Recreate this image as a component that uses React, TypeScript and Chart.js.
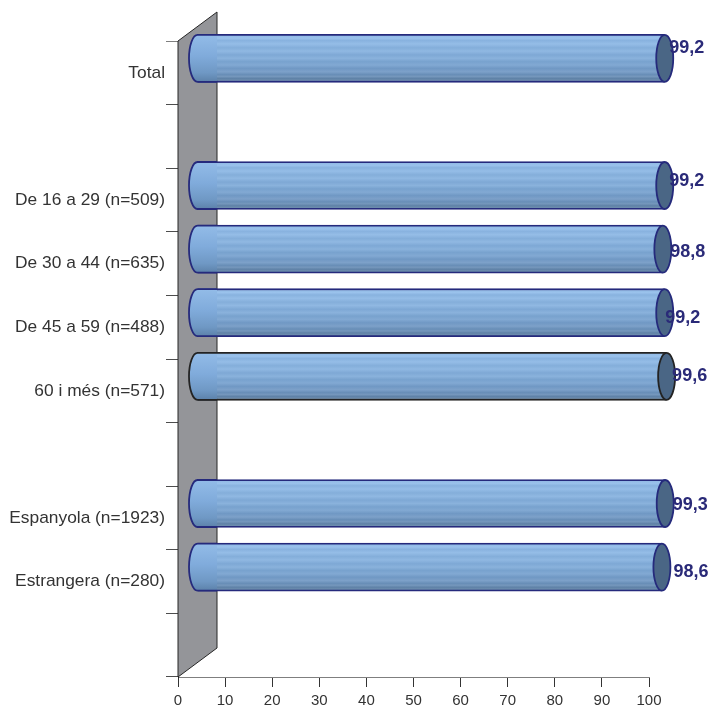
import React, { useEffect, useRef } from "react";
import { Chart, registerables } from "chart.js";

Chart.register(...registerables);

const categories = ["Total", "", "De 16 a 29 (n=509)", "De 30 a 44 (n=635)", "De 45 a 59 (n=488)", "60 i més (n=571)", "", "Espanyola (n=1923)", "Estrangera (n=280)", ""];
const values = [99.2, null, 99.2, 98.8, 99.2, 99.6, null, 99.3, 98.6, null];
const valueLabels = ["99,2", "", "99,2", "98,8", "99,2", "99,6", "", "99,3", "98,6", ""];
const xTicks = [0, 10, 20, 30, 40, 50, 60, 70, 80, 90, 100];

const labelNudgeX = [24, 0, 24, 27, 20, 25, 0, 27, 31, 0];
const labelNudgeY = [-25, 0, -19, -12, -9, -15, 0, -13, -10, 0];
const outlineColors = ["#252a7c", "#252a7c", "#252a7c", "#252a7c", "#252a7c", "#232323", "#252a7c", "#252a7c", "#252a7c", "#252a7c"];

const FONT = '"Liberation Sans", Arial, sans-serif';
const DEPTH_X = 19.5;
const DEPTH_Y = 14.5;
const BAR_T = 48;
const CAP_RX = 8.5;

const smoothStops: [number, string][] = [
  [0, "#93bce8"], [0.45, "#80abdb"], [0.8, "#6f98c4"], [1, "#5b80a8"],
];
const stripedStops: [number, string][] = [
  [0, "#8db6e2"], [0.08, "#9ac2ec"], [0.13, "#88b2df"], [0.2, "#95bde7"], [0.28, "#84aeda"],
  [0.35, "#90b8e2"], [0.43, "#7ea8d5"], [0.5, "#8ab2dc"], [0.57, "#78a2ce"], [0.64, "#82a9d3"],
  [0.71, "#7098c4"], [0.78, "#7da1c9"], [0.84, "#688eb7"], [0.88, "#7597bc"], [0.92, "#5f82a7"],
  [0.96, "#6c8cad"], [1, "#557698"],
];

function grad(c: CanvasRenderingContext2D, cy: number, stops: [number, string][]) {
  const g = c.createLinearGradient(0, cy - BAR_T / 2, 0, cy + BAR_T / 2);
  stops.forEach(([p, col]) => g.addColorStop(p, col));
  return g;
}

const cylinderPlugin = {
  id: "cylinder",
  beforeDatasetsDraw(chart: any) {
    const { ctx, chartArea: a } = chart;
    const dx = DEPTH_X * 2, dy = DEPTH_Y * 2;
    ctx.save();
    ctx.beginPath();
    ctx.moveTo(a.left, a.top);
    ctx.lineTo(a.left + dx, a.top - dy);
    ctx.lineTo(a.left + dx, a.bottom - dy);
    ctx.lineTo(a.left, a.bottom);
    ctx.closePath();
    ctx.fillStyle = "#949599";
    ctx.fill();
    ctx.strokeStyle = "#262626";
    ctx.lineWidth = 1;
    ctx.stroke();
    ctx.restore();
  },
  beforeDatasetDraw(chart: any) {
    chart.ctx.save();
    chart.ctx.translate(DEPTH_X, -DEPTH_Y);
  },
  afterDatasetDraw(chart: any) {
    const { ctx, chartArea: a } = chart;
    ctx.restore();
    const meta = chart.getDatasetMeta(0);
    meta.data.forEach((el: any, i: number) => {
      if (values[i] == null) return;
      const cy = el.y - DEPTH_Y;
      const xL = a.left + DEPTH_X;
      const xR = el.x + DEPTH_X;
      const wall = a.left + DEPTH_X * 2;
      const outline = outlineColors[i];
      // smooth part and left cap
      ctx.save();
      ctx.beginPath();
      ctx.ellipse(xL, cy, CAP_RX, BAR_T / 2, 0, Math.PI / 2, (3 * Math.PI) / 2);
      ctx.lineTo(wall, cy - BAR_T / 2);
      ctx.lineTo(wall, cy + BAR_T / 2);
      ctx.closePath();
      ctx.fillStyle = grad(ctx, cy, smoothStops);
      ctx.fill();
      ctx.beginPath();
      ctx.ellipse(xL, cy, CAP_RX, BAR_T / 2 - 0.5, 0, Math.PI / 2, (3 * Math.PI) / 2);
      ctx.lineTo(wall, cy - BAR_T / 2 + 0.5);
      ctx.moveTo(xL, cy + BAR_T / 2 - 0.5);
      ctx.lineTo(wall, cy + BAR_T / 2 - 0.5);
      ctx.strokeStyle = outline;
      ctx.lineWidth = 1.8;
      ctx.stroke();
      // right cap
      ctx.beginPath();
      ctx.ellipse(xR, cy, CAP_RX, BAR_T / 2 - 0.5, 0, 0, Math.PI * 2);
      ctx.fillStyle = "#4a6685";
      ctx.fill();
      ctx.strokeStyle = outline;
      ctx.lineWidth = 1.8;
      ctx.stroke();
      ctx.restore();
    });
  },
  afterDatasetsDraw(chart: any) {
    const { ctx } = chart;
    const meta = chart.getDatasetMeta(0);
    ctx.save();
    ctx.font = `bold 18px ${FONT}`;
    ctx.fillStyle = "#2a2a78";
    ctx.textAlign = "left";
    ctx.textBaseline = "middle";
    meta.data.forEach((el: any, i: number) => {
      if (values[i] == null) return;
      ctx.fillText(valueLabels[i], el.x + labelNudgeX[i], el.y + labelNudgeY[i]);
    });
    ctx.restore();
  },
};

export default function App() {
  const ref = useRef<HTMLCanvasElement>(null);
  useEffect(() => {
    document.body.style.margin = "0";
    const chart = new Chart(ref.current!, {
      type: "bar",
      data: {
        labels: categories,
        datasets: [
          {
            data: values as any,
            barThickness: BAR_T,
            clip: false as any,
            borderWidth: { top: 1.8, bottom: 1.8, left: 0, right: 0 },
            borderColor: outlineColors,
            borderSkipped: false,
            backgroundColor: (c: any) => {
              const scale = c.chart.scales.y;
              const cy = c.type === "data" && scale ? scale.getPixelForValue(c.dataIndex) : NaN;
              if (!Number.isFinite(cy)) return "#7eaad9";
              return grad(c.chart.ctx, cy, stripedStops);
            },
          },
        ],
      },
      options: {
        indexAxis: "y",
        responsive: false,
        animation: false,
        events: [],
        layout: { padding: { top: 41, right: 66, left: 0, bottom: 0 } },
        plugins: { legend: { display: false }, tooltip: { enabled: false } },
        scales: {
          x: {
            min: 0,
            max: 100,
            afterFit: (s: any) => { s.height = 30; },
            afterBuildTicks: (s: any) => { s.ticks = xTicks.map((value) => ({ value })); },
            border: { color: "#7f7f7f", width: 1 },
            grid: { drawOnChartArea: false, tickLength: 10, color: "#333333", tickColor: "#333333" },
            ticks: { color: "#333333", font: { family: FONT, size: 15 }, padding: 5, maxRotation: 0 },
          },
          y: {
            afterFit: (s: any) => { s.width = 178; },
            border: { color: "#262626", width: 1 },
            grid: {
              drawOnChartArea: false,
              tickLength: 12,
              tickColor: (c: any) => (c.index === 0 || c.index === categories.length ? "#7f7f7f" : "#4d4d4d"),
            },
            ticks: { color: "#333333", font: { family: FONT, size: 17.35 }, padding: 1, autoSkip: false },
          },
        },
      },
      plugins: [cylinderPlugin],
    } as any);
    return () => chart.destroy();
  }, []);
  return (
    <div style={{ width: 715, height: 707 }}>
      <canvas ref={ref} width={715} height={707} style={{ display: "block", width: 715, height: 707 }} />
    </div>
  );
}
